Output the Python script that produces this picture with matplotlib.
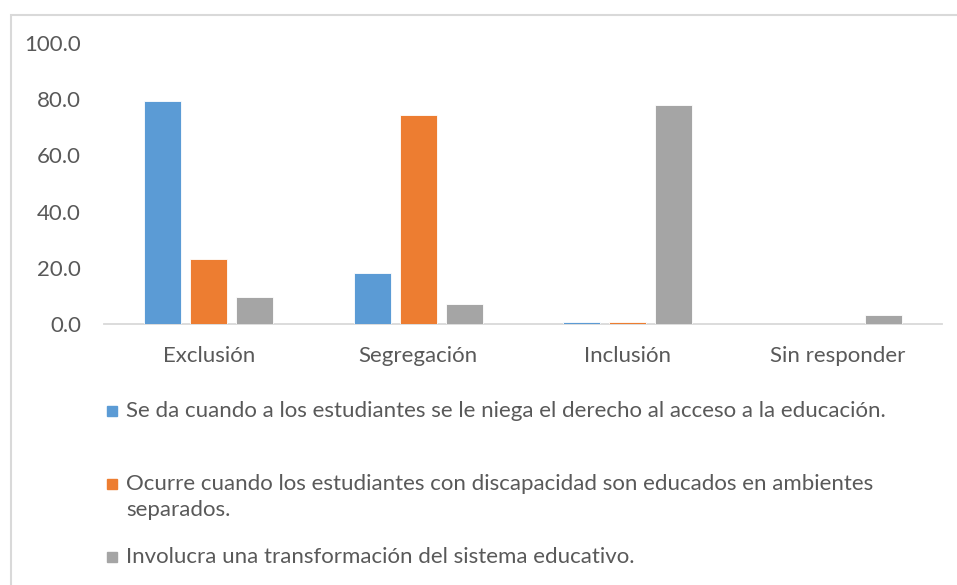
import matplotlib
matplotlib.use("Agg")
import numpy as np
import matplotlib.pyplot as plt
import matplotlib.patches as mpatches

plt.rcParams["font.family"] = ["Lato", "DejaVu Sans"]

CATEGORIES = ["Exclusión", "Segregación", "Inclusión", "Sin responder"]
SERIES_LABELS = [
    "Se da cuando a los estudiantes se le niega el derecho al acceso a la educación.",
    "Ocurre cuando los estudiantes con discapacidad son educados en ambientes\nseparados.",
    "Involucra una transformación del sistema educativo.",
]
EXCLUSION_DEF = [79.5, 18.0, 0.8, 0.0]
SEGREGACION_DEF = [23.2, 74.5, 0.8, 0.0]
INCLUSION_DEF = [9.5, 7.1, 77.9, 3.1]
Y_TICKS = [0, 20, 40, 60, 80, 100]

COLORS = ["#5B9BD5", "#ED7D31", "#A5A5A5"]
TEXT_COLOR = "#595959"
LINE_COLOR = "#D9D9D9"
FONT_SIZE = 16

W, H = 957, 585
fig = plt.figure(figsize=(W / 100, H / 100), dpi=100)

# outer chart frame (runs off the right and bottom of the screenshot)
fig.patches.append(mpatches.Rectangle((11 / W, -0.1), 1.2, 1 - 15 / H + 0.1,
                                      transform=fig.transFigure, fill=False,
                                      edgecolor=LINE_COLOR, linewidth=1.5))

ax = fig.add_axes([104 / W, 1 - 324 / H, 838 / W, 281 / H])
series = [EXCLUSION_DEF, SEGREGACION_DEF, INCLUSION_DEF]
x = np.arange(len(CATEGORIES))
bar_w = 0.177
step = 0.22
for i, vals in enumerate(series):
    ax.bar(x + (i - 1) * step, vals, width=bar_w, color=COLORS[i],
           edgecolor="white", linewidth=0.6, zorder=3)

ax.set_xlim(-0.5, len(CATEGORIES) - 0.5)
ax.set_ylim(0, 100)
ax.set_yticks(Y_TICKS)
ax.set_yticklabels([f"{v:.1f}" for v in Y_TICKS])
ax.set_xticks(x)
ax.set_xticklabels(CATEGORIES)
for s in ["top", "right", "left"]:
    ax.spines[s].set_visible(False)
ax.spines["bottom"].set_color(LINE_COLOR)
ax.spines["bottom"].set_linewidth(1.3)
ax.tick_params(axis="both", length=0, labelsize=FONT_SIZE, colors=TEXT_COLOR)
ax.tick_params(axis="y", pad=16.5)
ax.tick_params(axis="x", pad=15.5)

# legend, drawn by hand to follow the uneven row spacing
legend_rows = [411, 484, 557]
line_gap = 26
for color, label, yy in zip(COLORS, SERIES_LABELS, legend_rows):
    fig.patches.append(mpatches.Rectangle((107 / W, 1 - (yy + 5) / H), 10 / W, 10 / H,
                                          transform=fig.transFigure, color=color))
    for k, line in enumerate(label.split("\n")):
        fig.text(126 / W, 1 - (yy + k * line_gap) / H, line, fontsize=FONT_SIZE,
                 color=TEXT_COLOR, va="center", ha="left")

fig.savefig("out.png", dpi=100)
